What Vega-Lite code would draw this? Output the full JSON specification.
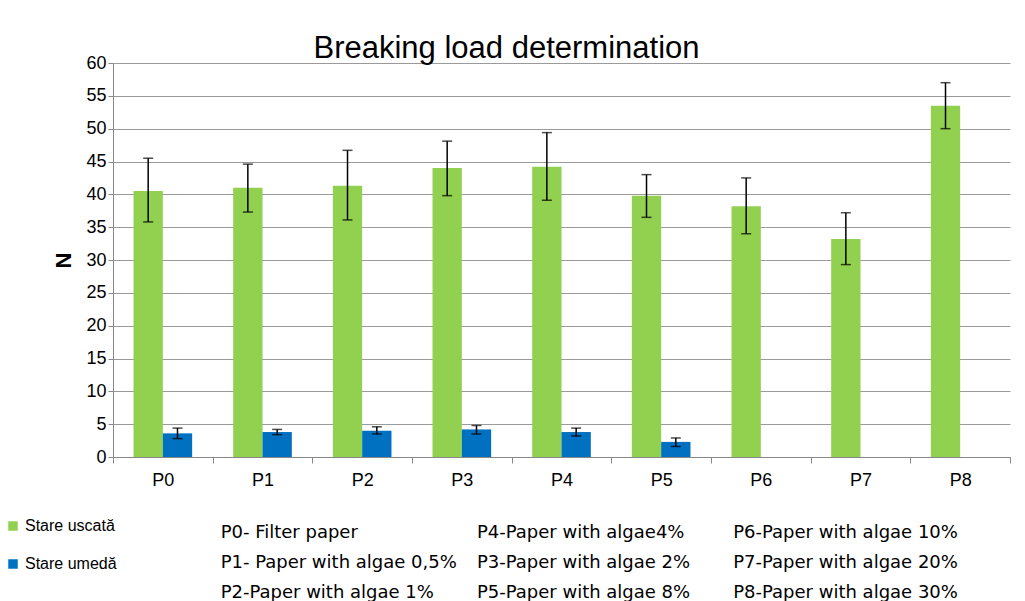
{
  "$schema": "https://vega.github.io/schema/vega-lite/v6.json",
  "background": "white",
  "padding": {"left": 5, "top": 33, "right": 5, "bottom": 0},
  "config": {
    "font": "Liberation Sans",
    "view": {"stroke": null},
    "concat": {"spacing": 8}
  },
  "vconcat": [
    {
      "width": 897,
      "height": 394,
      "title": {"text": "Breaking load determination", "fontSize": 31, "fontWeight": "normal", "offset": -11, "dx": -55},
      "data": {"values": [
        {"p": "P0", "s": "Stare uscată", "v": 40.5, "lo": 35.8, "hi": 45.5},
        {"p": "P1", "s": "Stare uscată", "v": 41.0, "lo": 37.3, "hi": 44.6},
        {"p": "P2", "s": "Stare uscată", "v": 41.3, "lo": 36.1, "hi": 46.7},
        {"p": "P3", "s": "Stare uscată", "v": 44.0, "lo": 39.8, "hi": 48.1},
        {"p": "P4", "s": "Stare uscată", "v": 44.2, "lo": 39.1, "hi": 49.4},
        {"p": "P5", "s": "Stare uscată", "v": 39.8, "lo": 36.5, "hi": 43.0},
        {"p": "P6", "s": "Stare uscată", "v": 38.2, "lo": 34.0, "hi": 42.5},
        {"p": "P7", "s": "Stare uscată", "v": 33.2, "lo": 29.3, "hi": 37.2},
        {"p": "P8", "s": "Stare uscată", "v": 53.5, "lo": 50.0, "hi": 57.0},
        {"p": "P0", "s": "Stare umedă", "v": 3.6, "lo": 2.8, "hi": 4.4},
        {"p": "P1", "s": "Stare umedă", "v": 3.8, "lo": 3.4, "hi": 4.2},
        {"p": "P2", "s": "Stare umedă", "v": 4.0, "lo": 3.5, "hi": 4.6},
        {"p": "P3", "s": "Stare umedă", "v": 4.2, "lo": 3.5, "hi": 4.8},
        {"p": "P4", "s": "Stare umedă", "v": 3.8, "lo": 3.2, "hi": 4.4},
        {"p": "P5", "s": "Stare umedă", "v": 2.3, "lo": 1.6, "hi": 2.9}
      ]},
      "encoding": {
        "x": {"field": "p", "type": "nominal", "title": null,
          "scale": {"paddingInner": 0, "paddingOuter": 0},
          "axis": {"labelAngle": 0, "labelFontSize": 18, "labelColor": "black", "labelPadding": 8, "tickBand": "extent", "tickSize": 6, "domainColor": "#888", "tickColor": "#888"}},
        "xOffset": {"field": "s", "type": "nominal", "sort": ["Stare uscată", "Stare umedă"], "scale": {"paddingInner": 0, "paddingOuter": 0.7}},
        "color": {"field": "s", "type": "nominal", "sort": ["Stare uscată", "Stare umedă"],
          "scale": {"range": ["#92d050", "#0070c0"]},
          "legend": {"title": null, "orient": "none", "legendX": -108, "legendY": 455, "labelFontSize": 16, "symbolType": "square", "symbolSize": 90, "rowPadding": 22, "labelColor": "black"}}
      },
      "layer": [
        {"mark": {"type": "bar"},
          "encoding": {"y": {"field": "v", "type": "quantitative", "title": "N",
            "scale": {"domain": [0, 60]},
            "axis": {"tickCount": 12, "grid": true, "gridColor": "#9a9a9a", "gridWidth": 1.2, "labelFontSize": 18, "labelColor": "black", "titleFontSize": 22, "titleFontWeight": "bold", "titleAngle": -90, "titlePadding": 10, "domainColor": "#888", "tickColor": "#888"}}}},
        {"mark": {"type": "rule", "color": "black", "strokeWidth": 1.5},
          "encoding": {"y": {"field": "lo", "type": "quantitative"}, "y2": {"field": "hi"}, "color": {"value": "black"}}},
        {"mark": {"type": "tick", "color": "black", "thickness": 1.5, "size": 10, "orient": "horizontal"},
          "encoding": {"y": {"field": "lo", "type": "quantitative"}, "color": {"value": "black"}}},
        {"mark": {"type": "tick", "color": "black", "thickness": 1.5, "size": 10, "orient": "horizontal"},
          "encoding": {"y": {"field": "hi", "type": "quantitative"}, "color": {"value": "black"}}}
      ]
    },
    {
      "width": 897,
      "height": 100,
      "data": {"values": [
        {"c": 0, "r": 0, "t": "P0- Filter paper"},
        {"c": 0, "r": 1, "t": "P1- Paper with algae 0,5%"},
        {"c": 0, "r": 2, "t": "P2-Paper with algae 1%"},
        {"c": 1, "r": 0, "t": "P4-Paper with algae4%"},
        {"c": 1, "r": 1, "t": "P3-Paper with algae 2%"},
        {"c": 1, "r": 2, "t": " P5-Paper with algae 8%"},
        {"c": 2, "r": 0, "t": "P6-Paper with algae 10%"},
        {"c": 2, "r": 1, "t": "P7-Paper with algae 20%"},
        {"c": 2, "r": 2, "t": " P8-Paper with algae 30%"}
      ]},
      "mark": {"type": "text", "align": "left", "fontSize": 18, "font": "DejaVu Sans", "color": "black"},
      "encoding": {
        "x": {"field": "c", "type": "quantitative", "scale": {"domain": [-0.42, 3.08]}, "axis": null},
        "y": {"field": "r", "type": "quantitative", "scale": {"domain": [-1.2, 2.13], "reverse": true}, "axis": null},
        "text": {"field": "t"}
      }
    }
  ]
}
